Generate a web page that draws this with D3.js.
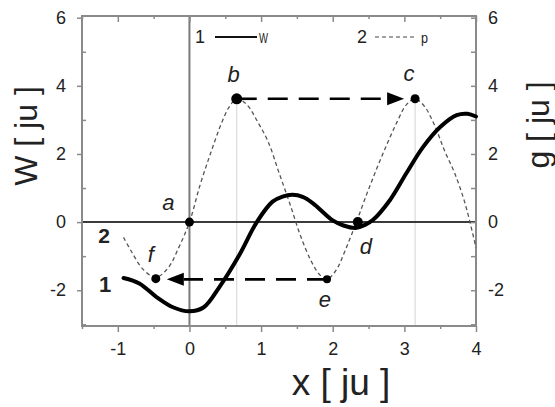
<!DOCTYPE html>
<html>
<head>
<meta charset="utf-8">
<script src="https://cdn.jsdelivr.net/npm/d3@7"></script>
<style>
  html, body { margin: 0; padding: 0; background: #fff; }
  svg { display: block; }
  text { font-family: "Liberation Sans", Arial, sans-serif; fill: #222; }
</style>
</head>
<body>
<svg id="chart" width="555" height="407"></svg>
<script>
// Curve 1: W(x), thick solid
const wX = [-0.92, -0.7, -0.46, -0.23, 0, 0.2, 0.42, 0.7, 0.94, 1.16, 1.3, 1.44, 1.58, 1.72, 2.0, 2.15, 2.32, 2.45, 2.56, 2.8, 3.03, 3.26, 3.5, 3.73, 3.88, 4.0];
const wY = [-1.64, -1.8, -2.2, -2.5, -2.62, -2.5, -1.9, -0.95, 0, 0.6, 0.75, 0.8, 0.74, 0.56, 0.05, -0.1, -0.17, -0.08, 0.06, 0.65, 1.44, 2.2, 2.79, 3.14, 3.18, 3.1];

// Curve 2: g(x), thin dashed
const gX = [-0.92, -0.8, -0.65, -0.47, -0.3, -0.15, 0, 0.15, 0.3, 0.45, 0.56, 0.66, 0.8, 0.95, 1.1, 1.25, 1.4, 1.55, 1.7, 1.82, 1.92, 2.05, 2.18, 2.33, 2.48, 2.62, 2.76, 2.9, 3.03, 3.15, 3.28, 3.42, 3.56, 3.7, 3.84, 3.95, 4.0];
const gY = [-0.45, -0.9, -1.38, -1.62, -1.35, -0.75, 0, 1.1, 2.05, 2.92, 3.4, 3.62, 3.45, 2.95, 2.35, 1.45, 0.55, -0.4, -1.15, -1.55, -1.68, -1.4, -0.8, 0, 0.85, 1.6, 2.3, 2.95, 3.45, 3.62, 3.4, 2.85, 2.1, 1.45, 0.6, -0.3, -0.75];

// Marked points
const pointNames = ["a", "b", "c", "d", "e", "f"];
const pointX = [0, 0.66, 3.15, 2.35, 1.92, -0.47];
const pointY = [0, 3.62, 3.62, 0, -1.68, -1.66];

// Axis ticks
const xTicks = [-1, 0, 1, 2, 3, 4];
const xMinorTicks = [-1.5, -0.5, 0.5, 1.5, 2.5, 3.5];
const yTicks = [-2, 0, 2, 4, 6];
const yMinorTicks = [-3, -1, 1, 3, 5];

const svg = d3.select("#chart");
const x = d3.scaleLinear().domain([-1.5, 4]).range([82, 476]);
const y = d3.scaleLinear().domain([-3.05, 6.05]).range([326, 16]);

const frameColor = "#8a8a8a";

// reference lines under b and c
[1, 2].forEach(i => {
  svg.append("line")
    .attr("x1", x(pointX[i])).attr("x2", x(pointX[i]))
    .attr("y1", y(pointY[i])).attr("y2", y.range()[0])
    .attr("stroke", "#d4d4d4").attr("stroke-width", 1);
});

// zero lines
svg.append("line")
  .attr("x1", x(0)).attr("x2", x(0)).attr("y1", y.range()[1]).attr("y2", y.range()[0])
  .attr("stroke", "#7a7a7a").attr("stroke-width", 2);
svg.append("line")
  .attr("x1", x.range()[0]).attr("x2", x.range()[1]).attr("y1", y(0)).attr("y2", y(0))
  .attr("stroke", "#3a3a3a").attr("stroke-width", 2);

// axes
function styleAxis(g) {
  g.select(".domain").remove();
  g.selectAll(".tick line").attr("stroke", frameColor).attr("stroke-width", 1.5);
  g.selectAll(".tick text").style("font-size", "18px").attr("fill", "#222");
}
const fmt = d => d3.format("d")(d).replace("−", "-");

svg.append("g").attr("transform", `translate(${x.range()[0]},0)`)
  .call(d3.axisLeft(y).tickValues(yTicks).tickSize(5).tickPadding(11).tickFormat(fmt)).call(styleAxis);
svg.append("g").attr("transform", `translate(${x.range()[0]},0)`)
  .call(d3.axisLeft(y).tickValues(yMinorTicks).tickSize(-4).tickFormat("")).call(styleAxis);
svg.append("g").attr("transform", `translate(${x.range()[1]},0)`)
  .call(d3.axisRight(y).tickValues(yTicks.concat(yMinorTicks)).tickSize(-5).tickPadding(12)
    .tickFormat(d => yTicks.includes(d) && d !== 6 ? fmt(d) : "")).call(styleAxis);
svg.append("g").attr("transform", `translate(${x.range()[1]},0)`)
  .call(d3.axisRight(y).tickValues([6]).tickSize(0).tickPadding(12).tickFormat(fmt)).call(styleAxis);
svg.append("g").attr("transform", `translate(0,${y.range()[0]})`)
  .call(d3.axisBottom(x).tickValues(xTicks).tickSize(6).tickPadding(10).tickFormat(fmt)).call(styleAxis);
svg.append("g").attr("transform", `translate(0,${y.range()[0]})`)
  .call(d3.axisBottom(x).tickValues(xMinorTicks).tickSize(3).tickFormat("")).call(styleAxis);
svg.append("g").attr("transform", `translate(0,${y.range()[1]})`)
  .call(d3.axisTop(x).tickValues(xTicks).tickSize(-6).tickFormat("")).call(styleAxis);
svg.append("g").attr("transform", `translate(0,${y.range()[1]})`)
  .call(d3.axisTop(x).tickValues(xMinorTicks).tickSize(-3).tickFormat("")).call(styleAxis);

// frame
svg.append("rect")
  .attr("x", x.range()[0]).attr("y", y.range()[1])
  .attr("width", x.range()[1] - x.range()[0]).attr("height", y.range()[0] - y.range()[1])
  .attr("fill", "none").attr("stroke", frameColor).attr("stroke-width", 2);

// curves
const line = d3.line().x(d => x(d[0])).y(d => y(d[1])).curve(d3.curveCatmullRom.alpha(0.5));
svg.append("path")
  .datum(gX.map((v, i) => [v, gY[i]]))
  .attr("d", line).attr("fill", "none")
  .attr("stroke", "#555").attr("stroke-width", 1.3).attr("stroke-dasharray", "4,3");
svg.append("path")
  .datum(wX.map((v, i) => [v, wY[i]]))
  .attr("d", line).attr("fill", "none")
  .attr("stroke", "#000").attr("stroke-width", 4).attr("stroke-linecap", "round");

// arrows b -> c and e -> f
function arrow(i0, i1) {
  const x0 = x(pointX[i0]), y0 = y(pointY[i0]);
  const x1 = x(pointX[i1]), y1 = y(pointY[i1]);
  const dir = Math.sign(x1 - x0);
  const tipX = x1 - dir * 11, len = 17, hw = 6.5;
  svg.append("line")
    .attr("x1", x0).attr("y1", y0).attr("x2", tipX - dir * len).attr("y2", y0)
    .attr("stroke", "#000").attr("stroke-width", 2.6).attr("stroke-dasharray", "20,11");
  svg.append("path")
    .attr("d", `M${tipX},${y0} L${tipX - dir * len},${y0 - hw} L${tipX - dir * len},${y0 + hw} Z`)
    .attr("fill", "#000");
}
arrow(1, 2);
arrow(4, 5);

// points
const radius = [4.5, 5.5, 4.5, 5, 4, 4.5];
svg.selectAll("circle.pt").data(pointNames).enter().append("circle")
  .attr("class", "pt")
  .attr("cx", (d, i) => x(pointX[i])).attr("cy", (d, i) => y(pointY[i]))
  .attr("r", (d, i) => radius[i]).attr("fill", "#000");

// point labels
const labelDx = [-21, -3, -6, 8, -2, -5];
const labelDy = [-12, -17, -18, 32, 28, -17];
svg.selectAll("text.pl").data(pointNames).enter().append("text")
  .attr("class", "pl")
  .attr("x", (d, i) => x(pointX[i]) + labelDx[i])
  .attr("y", (d, i) => y(pointY[i]) + labelDy[i])
  .attr("text-anchor", "middle")
  .style("font-size", "22px").style("font-style", "italic")
  .text(d => d);

// curve numbers
svg.append("text").attr("x", 104).attr("y", 243).attr("text-anchor", "middle")
  .style("font-size", "21px").style("font-weight", "bold").text("2");
svg.append("text").attr("x", 105).attr("y", 292).attr("text-anchor", "middle")
  .style("font-size", "22px").style("font-weight", "bold").text("1");

// legend
svg.append("text").attr("x", 200).attr("y", 43).attr("text-anchor", "middle")
  .style("font-size", "18px").text("1");
svg.append("line").attr("x1", 215).attr("x2", 257).attr("y1", 37).attr("y2", 37)
  .attr("stroke", "#111").attr("stroke-width", 2.2);
svg.append("text").attr("x", 259).attr("y", 43).attr("textLength", 9).attr("lengthAdjust", "spacingAndGlyphs")
  .style("font-size", "15px").text("W");
svg.append("text").attr("x", 362).attr("y", 43).attr("text-anchor", "middle")
  .style("font-size", "18px").text("2");
svg.append("line").attr("x1", 375).attr("x2", 416).attr("y1", 37).attr("y2", 37)
  .attr("stroke", "#444").attr("stroke-width", 1.2).attr("stroke-dasharray", "4,3");
svg.append("text").attr("x", 421).attr("y", 43).attr("textLength", 7).attr("lengthAdjust", "spacingAndGlyphs")
  .style("font-size", "15px").text("p");

// axis titles
svg.append("text").attr("transform", "translate(37,136) rotate(-90)").attr("text-anchor", "middle")
  .style("font-size", "32px").text("W [ ju ]");
svg.append("text").attr("transform", "translate(549,125) rotate(-90)").attr("text-anchor", "middle")
  .style("font-size", "32px").text("g [ ju ]");
svg.append("text").attr("x", 341).attr("y", 395).attr("text-anchor", "middle")
  .style("font-size", "37px").text("x [ ju ]");
</script>
</body>
</html>
